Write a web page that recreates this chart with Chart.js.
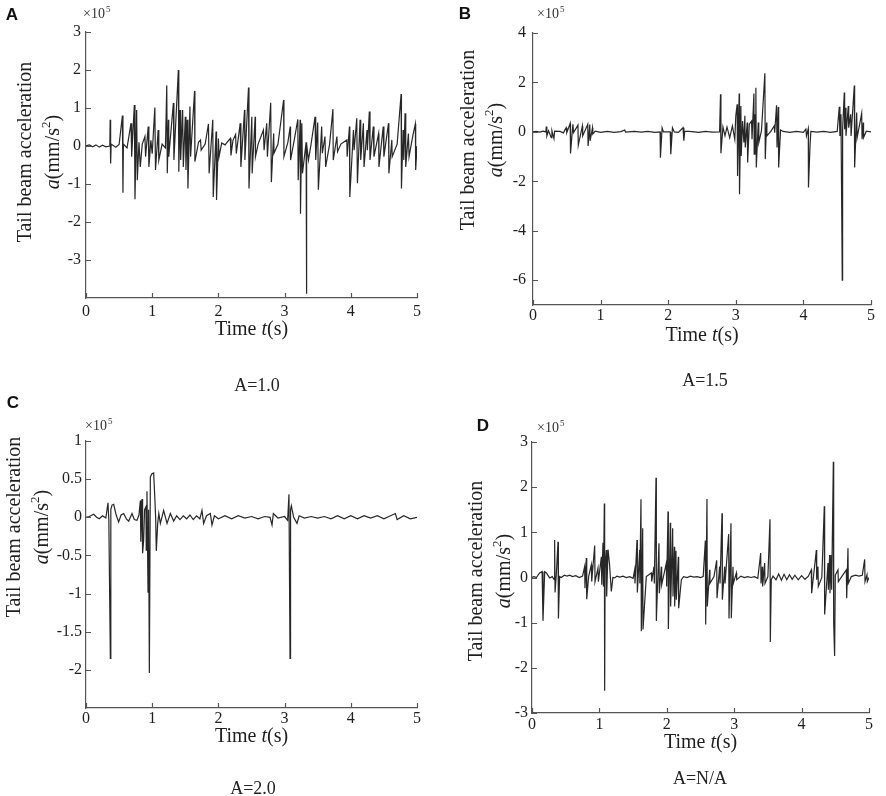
<!DOCTYPE html>
<html lang="en">
<head>
<meta charset="UTF-8">
<title>Tail beam acceleration</title>
<script src="https://cdn.jsdelivr.net/npm/chart.js"></script>
<style>
  body { margin: 0; background: #fff; }
  #wrap { position: relative; width: 886px; height: 796px; overflow: hidden; }
  .panel { position: absolute; }
  .letter { position: absolute; font: bold 17px "Liberation Sans", Arial, sans-serif; line-height: 1; transform: translate(-50%, -50%); color: #111; }
  .caption { position: absolute; font: 18px "Liberation Serif", "Times New Roman", serif; line-height: 1; transform: translate(-50%, -50%); color: #222; white-space: nowrap; }
</style>
</head>
<body>
<div id="wrap">
  <div class="panel" style="left:0;top:0;width:443px;height:395px"><canvas id="chartA"></canvas></div>
  <div class="panel" style="left:443px;top:0;width:443px;height:395px"><canvas id="chartB"></canvas></div>
  <div class="panel" style="left:0;top:395px;width:443px;height:401px"><canvas id="chartC"></canvas></div>
  <div class="panel" style="left:443px;top:395px;width:443px;height:401px"><canvas id="chartD"></canvas></div>

  <div class="letter" style="left:12px;top:14px">A</div>
  <div class="letter" style="left:465px;top:13px">B</div>
  <div class="letter" style="left:13px;top:402px">C</div>
  <div class="letter" style="left:483px;top:425px">D</div>

  <div class="caption" style="left:257px;top:385px">A=1.0</div>
  <div class="caption" style="left:705px;top:380px">A=1.5</div>
  <div class="caption" style="left:253px;top:788px">A=2.0</div>
  <div class="caption" style="left:700px;top:778px">A=N/A</div>
</div>

<script>
// time axis and tick labels (s)
const xTicks = [0, 1, 2, 3, 4, 5];

// y tick labels per panel (x10^5 mm/s^2)
const yTicksA = [-3, -2, -1, 0, 1, 2, 3];
const yTicksB = [-6, -4, -2, 0, 2, 4];
const yTicksC = [-2, -1.5, -1, -0.5, 0, 0.5, 1];
const yTicksD = [-3, -2, -1, 0, 1, 2, 3];

// Panel A, A=1.0
const timeA = [
  0, 0.05, 0.10, 0.15, 0.20, 0.25, 0.30, 0.36, 0.365, 0.372,
  0.38, 0.45, 0.50, 0.55, 0.558, 0.565, 0.62, 0.68, 0.69, 0.73,
  0.74, 0.765, 0.775, 0.80, 0.82, 0.85, 0.89, 0.90, 0.94, 0.95,
  0.98, 1.00, 1.04, 1.05, 1.09, 1.10, 1.15, 1.20, 1.22, 1.228,
  1.245, 1.25, 1.32, 1.328, 1.395, 1.402, 1.42, 1.43, 1.46, 1.47,
  1.50, 1.51, 1.53, 1.54, 1.57, 1.58, 1.64, 1.645, 1.70, 1.73,
  1.74, 1.80, 1.85, 1.86, 1.915, 1.922, 1.965, 1.972, 2.00, 2.01,
  2.05, 2.10, 2.18, 2.19, 2.22, 2.26, 2.27, 2.33, 2.34, 2.395,
  2.40, 2.455, 2.462, 2.505, 2.51, 2.555, 2.56, 2.60, 2.68, 2.69,
  2.73, 2.74, 2.79, 2.80, 2.835, 2.84, 2.90, 2.985, 2.99, 3.05,
  3.085, 3.09, 3.15, 3.20, 3.205, 3.235, 3.24, 3.26, 3.27, 3.325,
  3.33, 3.335, 3.36, 3.40, 3.46, 3.47, 3.50, 3.51, 3.56, 3.57,
  3.61, 3.62, 3.68, 3.73, 3.735, 3.79, 3.80, 3.85, 3.94, 3.945,
  3.98, 3.985, 4.04, 4.05, 4.09, 4.10, 4.14, 4.15, 4.19, 4.20,
  4.245, 4.25, 4.28, 4.29, 4.34, 4.35, 4.42, 4.425, 4.49, 4.50,
  4.57, 4.575, 4.62, 4.625, 4.70, 4.76, 4.765, 4.79, 4.80, 4.82,
  4.83, 4.87, 4.88, 4.94, 4.975, 4.98, 5.00
];
const accA = [
  0, 0.03, -0.02, 0.03, -0.03, 0.02, -0.02, 0, 0.69, -0.46,
  0.05, -0.03, 0.04, 0.80, -1.23, 0.05, -0.05, 0.60, -0.28, 1.08,
  -1.40, 0.95, -0.90, 0.10, -0.55, 0.05, 0.25, -0.28, 0.51, -0.55,
  0.15, -0.20, 1.01, -0.63, 0.42, -0.37, 0.05, -0.05, 1.59, -0.72,
  0.69, -0.28, 1.13, -0.37, 2.00, -0.68, 0.95, -0.37, 0.95, -0.55,
  0.77, -0.63, 0.69, -1.12, 1.04, -0.28, 1.45, -0.41, 0.10, 0.16,
  -0.11, 0.05, 0.58, -0.72, 0.69, -1.34, 0.38, -1.42, 0.20, -0.28,
  0.08, 0.03, 0.20, -0.25, 0.15, 0.30, -0.20, 0.60, -0.55, 0.95,
  -0.37, 1.54, -1.12, 0.77, -0.72, 0.77, -0.28, 0.05, 0.42, -0.11,
  0.60, -0.28, 1.14, -0.95, 0.33, -0.19, 0.05, 1.21, -0.28, 0.10,
  0.51, -0.37, 0.20, 0.70, -0.90, 0.69, -1.78, 0.60, -0.72, 0.10,
  -3.89, 0.05, -0.37, 0.05, 0.77, -0.37, 0.62, -1.15, 0.51, -0.19,
  0.25, -0.55, 0.05, 0.97, -0.37, 0.25, -0.15, 0.05, 0.16, -0.28,
  0.51, -1.34, 0.42, -0.11, 0.73, -0.98, 0.69, -0.37, 0.60, -0.55,
  0.42, -0.11, 0.91, -0.37, 0.51, -0.28, 0.33, -0.55, 0.51, -0.28,
  0.60, -0.72, 0.16, -0.28, 0.05, 1.37, -1.12, 0.42, -0.37, 0.86,
  -0.55, 0.33, -0.28, 0.30, 0.58, -0.63, 0
];

// Panel B, A=1.5
const timeB = [
  0, 0.05, 0.10, 0.15, 0.19, 0.197, 0.205, 0.23, 0.27, 0.28,
  0.31, 0.32, 0.40, 0.45, 0.49, 0.50, 0.55, 0.555, 0.59, 0.60,
  0.665, 0.67, 0.73, 0.735, 0.81, 0.815, 0.84, 0.845, 0.88, 0.885,
  0.92, 1.00, 1.10, 1.20, 1.30, 1.357, 1.37, 1.50, 1.60, 1.70,
  1.80, 1.88, 1.885, 1.91, 1.93, 2.03, 2.038, 2.063, 2.09, 2.15,
  2.22, 2.231, 2.245, 2.35, 2.45, 2.55, 2.65, 2.76, 2.774, 2.78,
  2.81, 2.84, 2.87, 2.91, 2.95, 2.985, 3.00, 3.02, 3.026, 3.05,
  3.055, 3.075, 3.08, 3.10, 3.12, 3.134, 3.14, 3.169, 3.175, 3.20,
  3.233, 3.24, 3.268, 3.272, 3.282, 3.288, 3.297, 3.303, 3.332, 3.34,
  3.38, 3.43, 3.436, 3.455, 3.46, 3.52, 3.569, 3.575, 3.603, 3.61,
  3.628, 3.634, 3.662, 3.70, 3.80, 3.90, 4.00, 4.037, 4.045, 4.072,
  4.075, 4.097, 4.11, 4.20, 4.30, 4.40, 4.50, 4.531, 4.54, 4.556,
  4.56, 4.575, 4.58, 4.605, 4.61, 4.625, 4.63, 4.664, 4.67, 4.699,
  4.705, 4.753, 4.758, 4.788, 4.795, 4.862, 4.868, 4.886, 4.89, 4.93,
  5.00
];
const accB = [
  0, 0.02, -0.01, 0.03, 0, 0.22, -0.16, 0.05, -0.23, 0.05,
  -0.27, 0.03, 0.02, -0.04, 0.17, -0.03, 0.35, -0.87, 0.31, -0.03,
  0.27, -0.54, 0.24, -0.16, 0.31, -0.57, 0.30, -0.36, 0.17, -0.09,
  0.03, -0.02, 0.02, -0.02, 0.01, 0.08, -0.01, 0.02, -0.01, 0.02,
  -0.02, 0, -1.04, 0.16, 0, 0, -0.90, 0.17, 0, -0.02,
  0.17, -0.36, 0.03, 0.01, -0.02, 0.02, -0.01, 0, 1.52, -0.86,
  0.20, -0.16, 0.20, -0.23, 0.24, -0.30, 0.65, 1.12, -1.78, 1.55,
  -2.52, 1.05, -0.97, 0.44, -0.43, 0.65, -0.63, 0.38, -1.24, 0.31,
  0.44, -0.30, 1.55, -0.90, 0.71, -0.86, 1.79, -1.44, 0.38, -0.43,
  0.05, 2.37, -1.10, 0.38, -0.16, 0.03, 0.24, -0.03, 1.08, -0.63,
  1.01, -1.44, 0.08, 0.02, -0.02, 0.02, -0.02, 0.11, -0.16, 0.13,
  -2.25, -0.63, 0.02, -0.01, 0.02, -0.02, 0.02, 1.02, -0.16, 0.71,
  -0.77, -5.99, 0.10, 1.59, 0.11, 0.98, -0.16, 1.05, 0.17, 0.71,
  -0.16, 1.88, -1.44, 0.78, -0.23, 0.75, -0.30, 0.38, -0.23, 0.03,
  0
];

// Panel C, A=2.0
const timeC = [
  0, 0.05, 0.116, 0.16, 0.20, 0.25, 0.30, 0.332, 0.345, 0.368,
  0.375, 0.393, 0.418, 0.45, 0.468, 0.493, 0.53, 0.569, 0.61, 0.645,
  0.695, 0.73, 0.77, 0.80, 0.821, 0.828, 0.846, 0.855, 0.871, 0.885,
  0.906, 0.91, 0.921, 0.937, 0.945, 0.957, 0.972, 0.997, 1.022, 1.04,
  1.052, 1.062, 1.083, 1.10, 1.123, 1.173, 1.224, 1.274, 1.324, 1.37,
  1.42, 1.47, 1.52, 1.57, 1.62, 1.67, 1.72, 1.752, 1.777, 1.82,
  1.878, 1.903, 1.94, 2.00, 2.10, 2.20, 2.30, 2.40, 2.50, 2.60,
  2.70, 2.78, 2.81, 2.83, 2.90, 3.00, 3.046, 3.066, 3.082, 3.09,
  3.102, 3.137, 3.187, 3.22, 3.30, 3.40, 3.50, 3.60, 3.70, 3.80,
  3.90, 4.00, 4.10, 4.20, 4.30, 4.40, 4.50, 4.60, 4.673, 4.70,
  4.80, 4.90, 5.00
];
const accC = [
  0, 0.01, 0.04, 0, -0.02, 0.02, -0.01, 0.19, -0.04, -1.85,
  0.10, 0.16, 0.17, 0.05, 0, -0.06, 0.03, 0.05, -0.02, -0.05,
  0.05, -0.03, -0.04, 0.03, 0.22, -0.32, 0.24, -0.47, -0.30, 0.10,
  0.14, -0.43, 0.34, -0.98, 0.10, -2.04, 0.53, 0.57, 0.58, 0.25,
  0, -0.44, -0.08, 0.05, -0.08, 0.09, -0.08, 0.05, -0.05, 0.02,
  -0.03, 0.02, -0.02, 0.03, -0.03, 0.02, -0.02, 0.09, -0.08, 0.02,
  0.05, -0.10, 0.02, -0.02, 0.02, -0.02, 0.02, -0.01, 0.01, -0.02,
  0.01, 0, -0.10, 0.05, -0.01, 0.01, -0.04, 0.30, -1.85, 0.10,
  0.15, 0, -0.08, 0.02, -0.01, 0.01, -0.01, 0.01, -0.02, 0.02,
  -0.02, 0.02, -0.02, 0.02, -0.01, 0.02, -0.02, 0.02, 0.05, -0.03,
  0.02, -0.02, 0
];

// Panel D, A=N/A
const timeD = [
  0, 0.03, 0.064, 0.114, 0.15, 0.163, 0.188, 0.213, 0.262, 0.30,
  0.33, 0.336, 0.342, 0.36, 0.386, 0.392, 0.41, 0.435, 0.48, 0.52,
  0.56, 0.60, 0.65, 0.70, 0.75, 0.781, 0.786, 0.806, 0.812, 0.84,
  0.88, 0.886, 0.93, 0.935, 0.979, 0.985, 1.029, 1.035, 1.053, 1.06,
  1.073, 1.078, 1.085, 1.103, 1.108, 1.128, 1.15, 1.177, 1.20, 1.227,
  1.26, 1.30, 1.35, 1.40, 1.45, 1.50, 1.523, 1.528, 1.558, 1.563,
  1.597, 1.60, 1.617, 1.622, 1.642, 1.647, 1.696, 1.771, 1.776, 1.81,
  1.815, 1.84, 1.845, 1.884, 1.889, 1.919, 1.924, 1.95, 1.993, 1.998,
  2.018, 2.023, 2.052, 2.057, 2.087, 2.092, 2.112, 2.117, 2.136, 2.141,
  2.171, 2.176, 2.216, 2.25, 2.30, 2.35, 2.40, 2.45, 2.50, 2.54,
  2.572, 2.577, 2.596, 2.601, 2.636, 2.64, 2.70, 2.74, 2.745, 2.784,
  2.79, 2.819, 2.824, 2.859, 2.864, 2.918, 2.923, 2.952, 2.957, 2.982,
  2.987, 3.032, 3.037, 3.10, 3.15, 3.20, 3.25, 3.30, 3.35, 3.393,
  3.398, 3.417, 3.422, 3.452, 3.457, 3.50, 3.531, 3.536, 3.55, 3.576,
  3.62, 3.66, 3.70, 3.74, 3.78, 3.82, 3.86, 3.90, 3.95, 4.00,
  4.05, 4.10, 4.144, 4.149, 4.219, 4.224, 4.243, 4.248, 4.30, 4.337,
  4.342, 4.392, 4.397, 4.416, 4.421, 4.441, 4.446, 4.471, 4.476, 4.49,
  4.50, 4.54, 4.545, 4.60, 4.664, 4.669, 4.688, 4.693, 4.738, 4.80,
  4.85, 4.90, 4.936, 4.941, 4.97, 4.975, 5.00
];
const accD = [
  0, 0.02, 0, 0.10, 0.13, -0.96, 0.13, 0.10, -0.01, 0.02,
  -0.05, 0.83, -0.33, 0.05, 0.79, -0.91, 0.02, 0, 0.05, 0.03,
  0.05, 0.02, 0.04, 0, 0.03, 0.24, -0.24, 0.43, -0.48, 0.02,
  0.28, -0.09, 0.71, -0.09, 0.21, -0.09, 0.46, -0.16, 0.77, -0.20,
  1.64, -2.51, 0.20, 0.61, -0.42, 0.62, 0.30, -0.31, 0, -0.01,
  0.03, 0.01, 0.03, 0, 0.02, -0.02, 0.17, -0.13, 0.83, -0.33,
  0.61, -0.13, 1.73, -1.19, 1.09, -1.15, 0.02, 0.10, -0.09, 0.24,
  -0.13, 2.21, -0.96, 0.76, -0.35, 0.24, -0.16, 0.02, 0.32, -0.20,
  1.46, -1.14, 1.21, -0.64, 1.09, -0.42, 0.68, -0.64, 0.59, -0.49,
  0.46, -0.68, -0.05, 0.02, 0, 0.03, 0.01, 0.02, 0, 0.02,
  0.82, -1.04, 1.74, -0.64, 0.17, -0.13, 0.02, 0.38, -0.46, 0.24,
  -0.13, 1.42, -0.49, 0.24, -0.13, 0.96, -0.91, 1.20, -0.90, 0.24,
  -0.13, 0.10, -0.05, 0.03, 0, 0.02, 0, 0.02, -0.02, 0.54,
  -0.13, 0.24, -0.20, 0.32, -0.13, 0.02, 1.29, -1.43, -0.05, 0.03,
  -0.05, 0.08, -0.06, 0.07, -0.05, 0.06, -0.04, 0.05, -0.05, 0.04,
  -0.04, 0.03, 0.17, -0.35, 0.61, -0.05, 0.24, -0.20, 0, 1.58,
  -0.82, 0.32, -0.27, 0.50, -0.35, 0.50, -0.27, 2.56, -1.01, -1.74,
  0.05, 0.17, -0.09, 0.03, 0.17, -0.46, 0.65, -0.13, 0.02, 0.05,
  0.03, 0.05, 0.40, -0.09, 0.06, -0.09, 0
];

const serif = '"Liberation Serif", "Times New Roman", serif';
const inkColor = '#1e1e1e';
const axisColor = '#555';

// axis titles, with the italic symbols and the raised 2
const xTitleParts = [['Time ', ''], ['t', 'i'], ['(s)', '']];
const yTitleLine1 = [['Tail beam acceleration', '']];
const yTitleLine2 = [['a', 'i'], ['(mm/s', ''], ['2', 'sup'], [')', '']];

function partFont(style) {
  if (style === 'i') return 'italic 20px ' + serif;
  if (style === 'sup') return '13px ' + serif;
  return '20px ' + serif;
}

// draws a run of text pieces centred on (x, y)
function drawParts(ctx, parts, x, y) {
  let total = 0;
  parts.forEach(p => { ctx.font = partFont(p[1]); total += ctx.measureText(p[0]).width; });
  let cx = x - total / 2;
  parts.forEach(p => {
    ctx.font = partFont(p[1]);
    ctx.fillText(p[0], cx, p[1] === 'sup' ? y - 7 : y);
    cx += ctx.measureText(p[0]).width;
  });
}

// inward tick marks, "x10^5" multiplier and the axis titles
const panelDecor = {
  id: 'panelDecor',
  afterDraw(chart, args, opts) {
    const { ctx, chartArea, scales } = chart;
    ctx.save();

    ctx.strokeStyle = axisColor;
    ctx.lineWidth = 1.2;
    ctx.beginPath();
    scales.x.ticks.forEach(t => {
      const px = Math.round(scales.x.getPixelForValue(t.value)) + 0.5;
      ctx.moveTo(px, chartArea.bottom);
      ctx.lineTo(px, chartArea.bottom - 5);
    });
    scales.y.ticks.forEach(t => {
      const py = Math.round(scales.y.getPixelForValue(t.value)) + 0.5;
      ctx.moveTo(chartArea.left, py);
      ctx.lineTo(chartArea.left + 5, py);
    });
    ctx.stroke();

    ctx.fillStyle = '#333';
    ctx.textAlign = 'left';
    ctx.textBaseline = 'alphabetic';
    const ex = chartArea.left + opts.expDx;
    const ey = chartArea.top + opts.expDy;
    ctx.font = '14px ' + serif;
    ctx.fillText('\u00d710', ex, ey);
    const w = ctx.measureText('\u00d710').width;
    ctx.font = '9px ' + serif;
    ctx.fillText('5', ex + w + 1, ey - 6);

    ctx.fillStyle = inkColor;
    ctx.textBaseline = 'middle';
    drawParts(ctx, xTitleParts, (chartArea.left + chartArea.right) / 2, chartArea.bottom + opts.xTitleDy);

    const yx = chartArea.left - opts.yTitleDx;
    const yy = chartArea.top + opts.yTitleDy;
    ctx.translate(yx, yy);
    ctx.rotate(-Math.PI / 2);
    drawParts(ctx, yTitleLine1, 0, 0);
    drawParts(ctx, yTitleLine2, 0, 28);
    ctx.restore();
  }
};

function buildChart(id, times, acc, yMin, yMax, yTicks, cfg) {
  if (times.length !== acc.length) console.warn(id, 'length mismatch', times.length, acc.length);
  const pts = times.map((t, i) => ({ x: t, y: acc[i] }));
  const gridOpts = { display: false, drawTicks: false, tickLength: 0 };
  const borderOpts = { display: true, color: axisColor, width: 1.2 };

  return new Chart(document.getElementById(id), {
    type: 'line',
    data: {
      datasets: [{
        data: pts,
        borderColor: 'rgba(15, 15, 15, 0.9)',
        borderWidth: 1.2,
        pointRadius: 0,
        tension: 0,
        fill: false
      }]
    },
    options: {
      responsive: true,
      maintainAspectRatio: false,
      animation: false,
      layout: { padding: cfg.pad },
      plugins: {
        legend: { display: false },
        tooltip: { enabled: false },
        panelDecor: cfg.decor
      },
      scales: {
        x: {
          type: 'linear',
          min: 0,
          max: 5,
          afterFit(s) { s.height = cfg.xHeight; },
          afterBuildTicks(s) { s.ticks = xTicks.map(v => ({ value: v })); },
          ticks: { padding: cfg.xPad, color: inkColor, maxRotation: 0, font: { family: serif, size: 16 }, callback: v => String(v) },
          grid: gridOpts,
          border: borderOpts
        },
        y: {
          type: 'linear',
          min: yMin,
          max: yMax,
          afterFit(s) { s.width = cfg.yWidth; },
          afterBuildTicks(s) { s.ticks = yTicks.map(v => ({ value: v })); },
          ticks: { padding: cfg.yPad, color: inkColor, font: { family: serif, size: 16 }, callback: v => String(v) },
          grid: gridOpts,
          border: borderOpts
        }
      }
    },
    plugins: [panelDecor]
  });
}

buildChart('chartA', timeA, accA, -4, 3, yTicksA, {
  pad: { left: 0, top: 32, right: 26, bottom: 51 },
  yWidth: 86, xHeight: 46, xPad: 4, yPad: 5,
  decor: { expDx: -3, expDy: -14, xTitleDy: 32, yTitleDx: 60.5, yTitleDy: 120 }
});
buildChart('chartB', timeB, accB, -7, 4, yTicksB, {
  pad: { left: 0, top: 33, right: 15, bottom: 45 },
  yWidth: 90, xHeight: 45, xPad: 1, yPad: 7,
  decor: { expDx: 4, expDy: -15, xTitleDy: 31, yTitleDx: 64.5, yTitleDy: 107 }
});
buildChart('chartC', timeC, accC, -2.5, 1, yTicksC, {
  pad: { left: 0, top: 46, right: 26, bottom: 45 },
  yWidth: 86, xHeight: 43, xPad: 1, yPad: 4,
  decor: { expDx: -1, expDy: -11, xTitleDy: 29, yTitleDx: 71.5, yTitleDy: 86 }
});
buildChart('chartD', timeD, accD, -3, 3, yTicksD, {
  pad: { left: 0, top: 47, right: 17, bottom: 39 },
  yWidth: 89, xHeight: 44, xPad: 2, yPad: 4,
  decor: { expDx: 5, expDy: -10, xTitleDy: 30, yTitleDx: 55, yTitleDy: 129 }
});
</script>
</body>
</html>
